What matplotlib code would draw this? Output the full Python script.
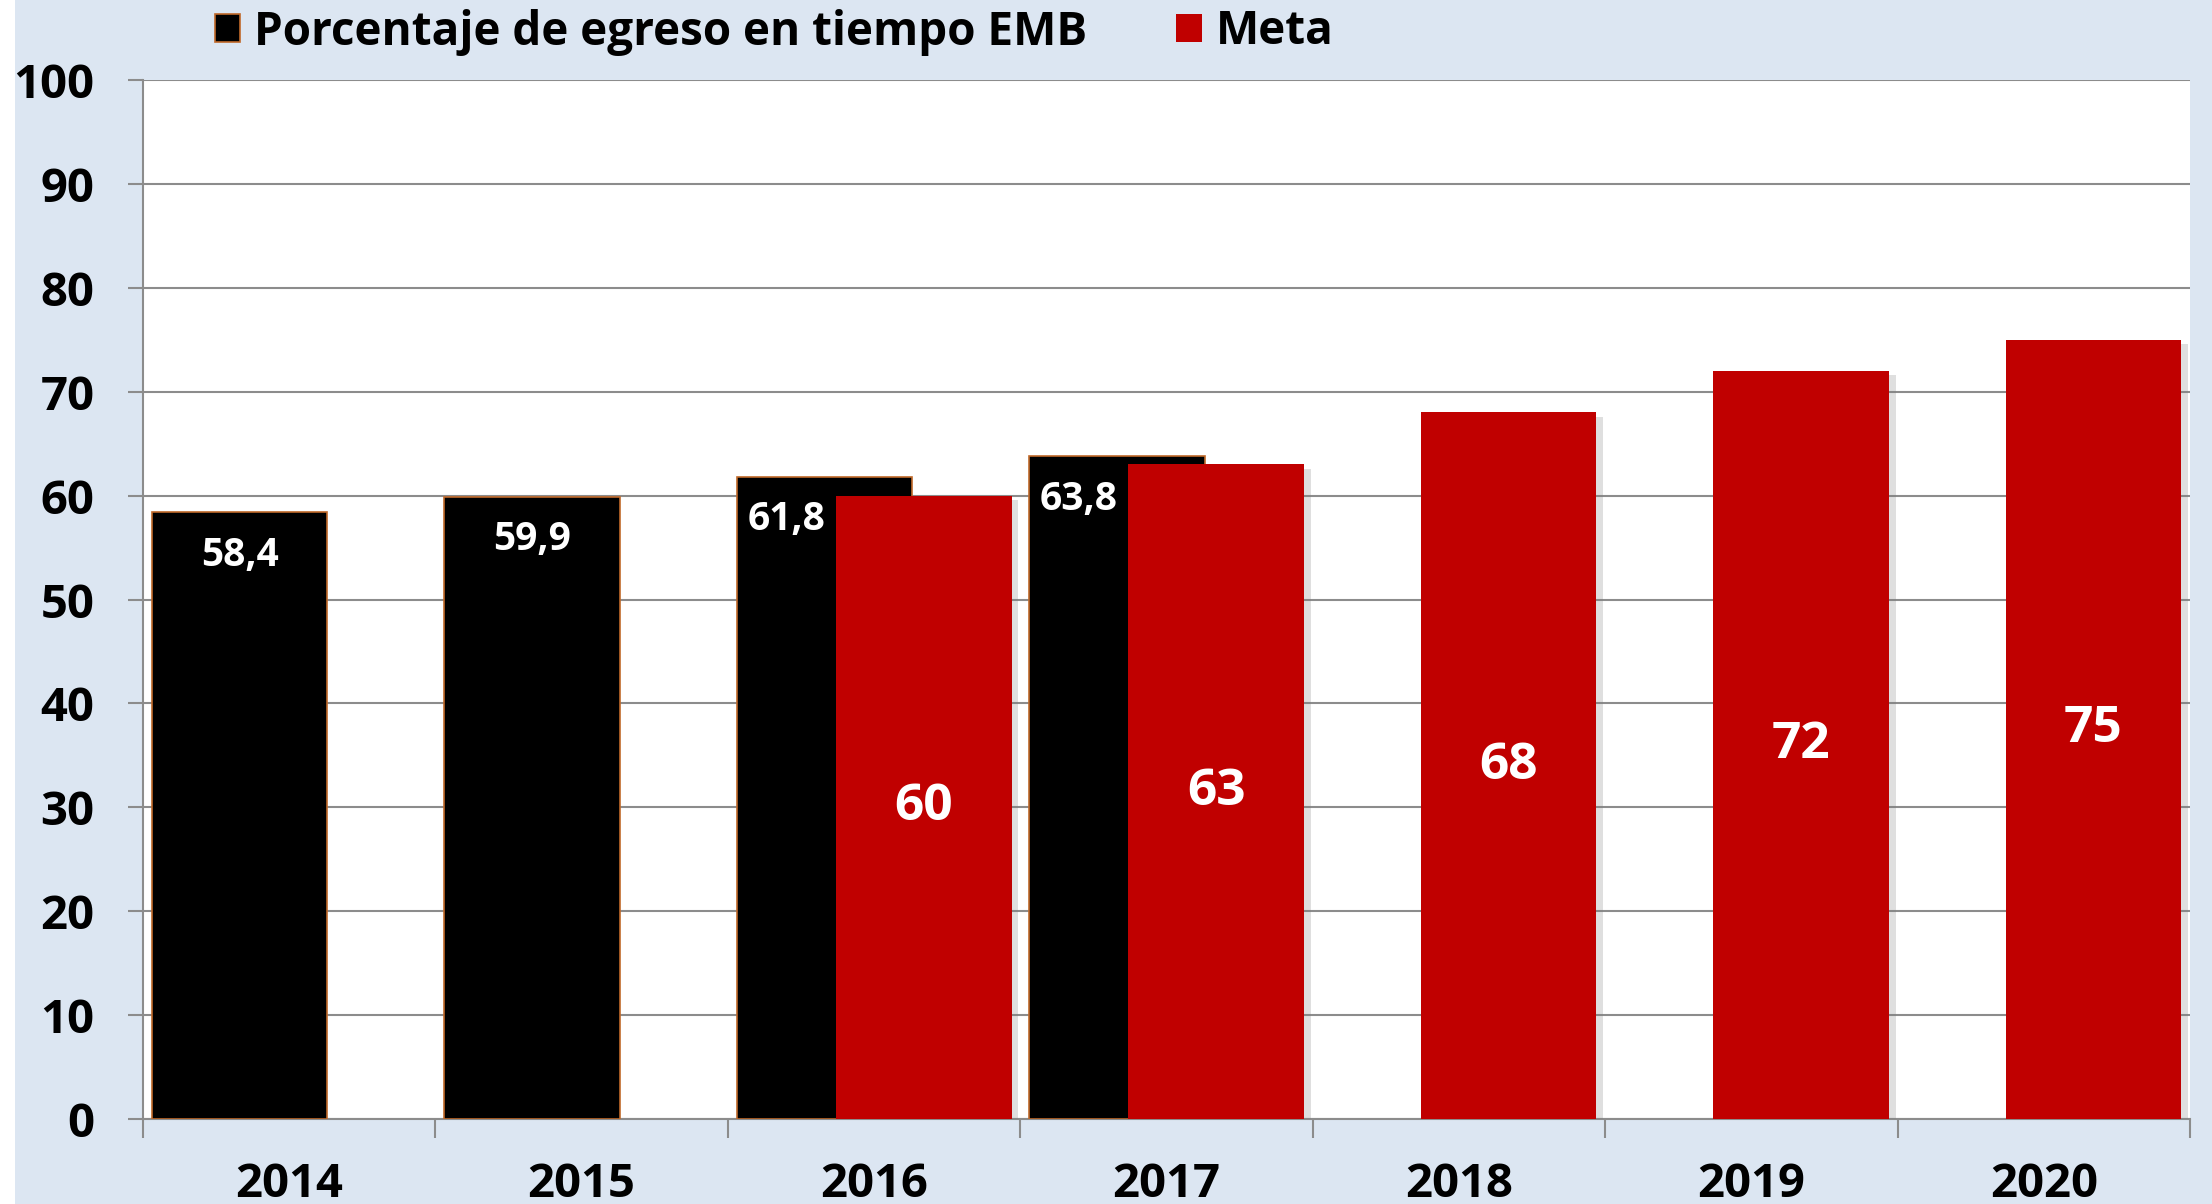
import matplotlib
matplotlib.use("Agg")
import matplotlib.pyplot as plt
import matplotlib.patches as mpatches
import matplotlib.patheffects as pe
import numpy as np

years = ["2014", "2015", "2016", "2017", "2018", "2019", "2020"]
egreso = [58.4, 59.9, 61.8, 63.8, None, None, None]
egreso_labels = ["58,4", "59,9", "61,8", "63,8"]
meta = [None, None, 60, 63, 68, 72, 75]
meta_labels = ["60", "63", "68", "72", "75"]
yticks = [0, 10, 20, 30, 40, 50, 60, 70, 80, 90, 100]

BG = "#dce6f2"
RED = "#c00000"
EDGE = "#c0692a"
GRID = "#8c8c8c"
FONT = "Open Sans"

W, H = 2212, 1204
fig = plt.figure(figsize=(W / 100, H / 100), dpi=100)
fig.patch.set_facecolor(BG)
fig.add_artist(mpatches.Rectangle((0, 0), 15 / W, 1, transform=fig.transFigure,
                                  facecolor="white", edgecolor="none", zorder=0))

ax = fig.add_axes([143 / W, 1 - 1119 / H, (2190 - 143) / W, (1119 - 80) / H])
ax.set_facecolor("white")

x = np.arange(len(years))
bw = 0.6
off = 0.17

ex = [xi - off for xi, v in zip(x, egreso) if v is not None]
ev = [v for v in egreso if v is not None]
mx = [xi + off for xi, v in zip(x, meta) if v is not None]
mv = [v for v in meta if v is not None]
overlap = [meta[i] is not None for i, v in enumerate(egreso) if v is not None]

bars_e = ax.bar(ex, ev, width=bw, color="black", edgecolor=EDGE, linewidth=1.2, zorder=3)
bars_m = ax.bar(mx, mv, width=bw, color=RED, edgecolor="none", linewidth=0, zorder=4)
for b in bars_m:
    b.set_path_effects([pe.SimplePatchShadow(offset=(5, -3), shadow_rgbFace="#808080", alpha=0.25),
                        pe.Normal()])

for b, lab, ov in zip(bars_e, egreso_labels, overlap):
    left = b.get_x()
    if ov:
        cx = left + (2 * off) / 2  # centre of the part not covered by the red bar
    else:
        cx = left + b.get_width() / 2
    ax.annotate(lab, (cx, b.get_height()),
                xytext=(0, -31), textcoords="offset points", ha="center", va="center",
                color="white", fontsize=28, fontweight="bold", family=FONT, zorder=6)
for b, lab in zip(bars_m, meta_labels):
    ax.text(b.get_x() + b.get_width() / 2, b.get_height() / 2, lab, ha="center", va="center",
            color="white", fontsize=37, fontweight="bold", family=FONT, zorder=6)

ax.set_xlim(-0.5, len(years) - 0.5)
ax.set_ylim(0, 100)
ax.set_yticks(yticks)
ax.set_yticklabels([str(t) for t in yticks])
ax.grid(axis="y", color=GRID, linewidth=1.5, zorder=1)
ax.set_axisbelow(True)

ax.set_xticks(x)
ax.set_xticklabels(years)
ax.set_xticks(np.arange(len(years) + 1) - 0.5, minor=True)
ax.tick_params(axis="x", which="major", length=0, pad=30)
ax.tick_params(axis="x", which="minor", length=14, width=1.5, color=GRID, direction="out")
ax.tick_params(axis="y", length=11, width=1.5, color=GRID, pad=24)
for lab in ax.get_xticklabels() + ax.get_yticklabels():
    lab.set_fontsize(34)
    lab.set_fontweight("bold")
    lab.set_family(FONT)

for s in ["top", "right"]:
    ax.spines[s].set_visible(False)
ax.spines["left"].set_color(GRID)
ax.spines["left"].set_linewidth(1.5)
ax.spines["bottom"].set_color(GRID)
ax.spines["bottom"].set_linewidth(1.5)

h1 = mpatches.Patch(facecolor="black", edgecolor=EDGE, linewidth=1.2)
h2 = mpatches.Patch(facecolor=RED, edgecolor="none")
fig.legend([h1, h2], ["Porcentaje de egreso en tiempo EMB", "Meta"],
           loc="center left", bbox_to_anchor=(215 / W, 1 - 32 / H), ncol=2, frameon=False,
           handlelength=0.55, handleheight=0.55, handletextpad=0.3, columnspacing=1.95,
           borderaxespad=0, borderpad=0,
           prop={"family": FONT, "weight": "bold", "size": 33})

fig.savefig("out.png", dpi=100, facecolor=BG)
